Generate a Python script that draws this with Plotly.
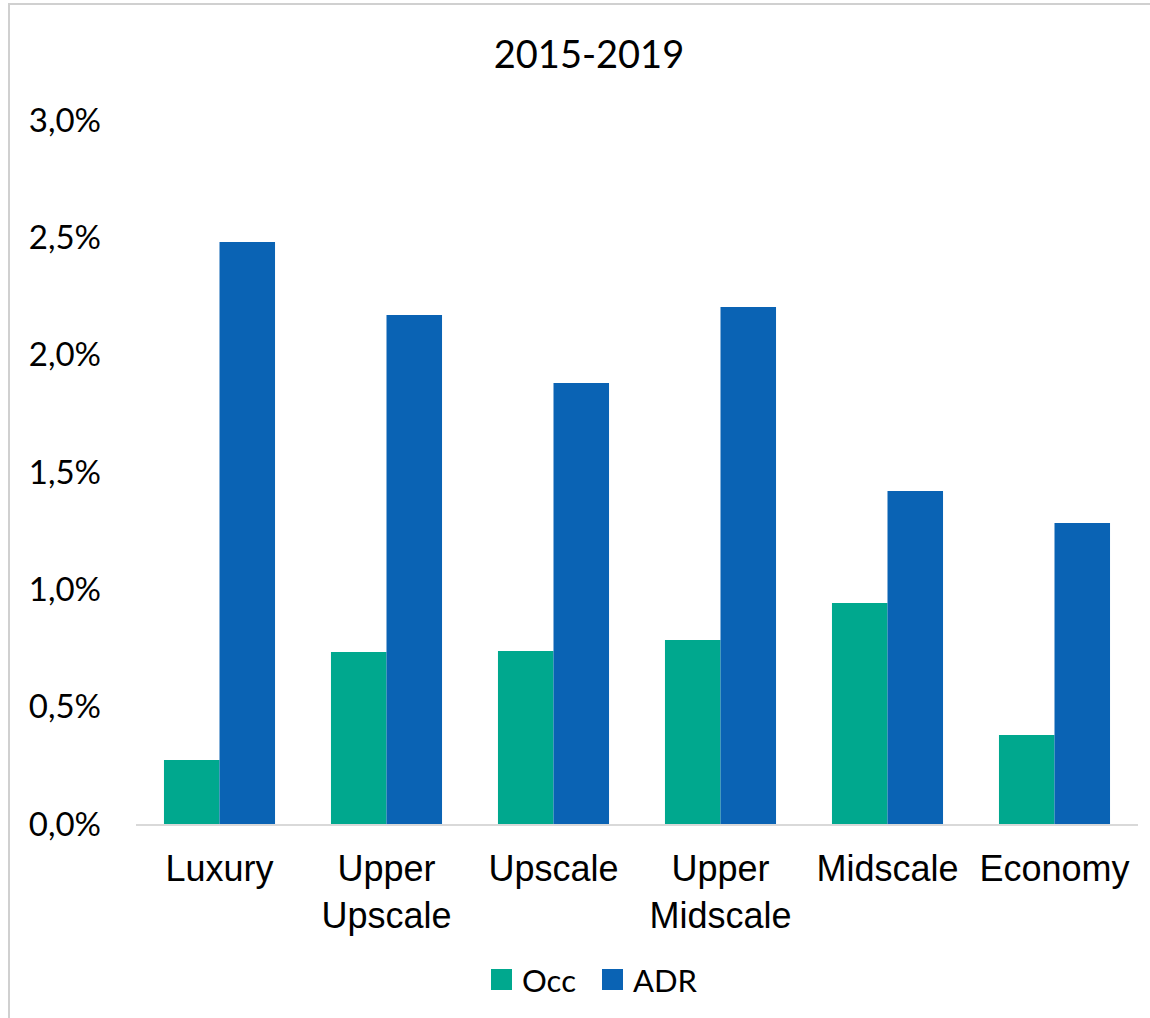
import plotly.graph_objects as go

# Average annual growth by hotel class, 2015-2019
categories = ["Luxury", "Upper<br>Upscale", "Upscale", "Upper<br>Midscale", "Midscale", "Economy"]
occ_growth = [0.00273, 0.00733, 0.00737, 0.00784, 0.00942, 0.00379]
adr_growth = [0.0248, 0.02169, 0.01879, 0.02203, 0.01419, 0.01283]
y_ticks = [0, 0.005, 0.01, 0.015, 0.02, 0.025, 0.03]

OCC_COLOR = "#00A88E"
ADR_COLOR = "#0A63B4"
LABEL_FONT = "Lato, 'Noto Sans', sans-serif"
CAT_FONT = "'Liberation Sans', Arial, sans-serif"

W, H = 1150, 1018
M_L, M_R, M_T, M_B = 136, 12, 120, 194
PW, PH = W - M_L - M_R, H - M_T - M_B


def px_x(px):
    return (px - M_L) / PW


def px_y(py):
    return (H - M_B - py) / PH


fig = go.Figure()
fig.add_trace(go.Bar(name="Occ", x=categories, y=occ_growth,
                     marker=dict(color=OCC_COLOR, line=dict(width=0)), showlegend=False))
fig.add_trace(go.Bar(name="ADR", x=categories, y=adr_growth,
                     marker=dict(color=ADR_COLOR, line=dict(width=0)), showlegend=False))

# Outer chart frame
fig.add_shape(type="rect", xref="paper", yref="paper",
              x0=px_x(9), x1=px_x(1175), y0=px_y(4), y1=px_y(1040),
              line=dict(color="#D0D0D0", width=2), fillcolor="rgba(0,0,0,0)", layer="below")

# Legend: colour swatches with labels
legend_items = [("Occ", OCC_COLOR, 491), ("ADR", ADR_COLOR, 602)]
for name, color, left in legend_items:
    fig.add_shape(type="rect", xref="paper", yref="paper",
                  x0=px_x(left), x1=px_x(left + 21), y0=px_y(969), y1=px_y(990),
                  line=dict(width=0), fillcolor=color)
    fig.add_annotation(text=name, xref="paper", yref="paper",
                       x=px_x(left + 29), y=px_y(979.5), xanchor="left", yanchor="middle",
                       showarrow=False, font=dict(family=LABEL_FONT, size=31, color="#000000"))

fig.update_layout(
    width=W, height=H,
    margin=dict(l=M_L, r=M_R, t=M_T, b=M_B),
    paper_bgcolor="white", plot_bgcolor="white",
    separators=",.",
    barmode="group", bargap=0.335, bargroupgap=0,
    title=dict(text="2015-2019", x=589 / W, xanchor="center", y=1 - 55 / H, yanchor="middle",
               font=dict(family=LABEL_FONT, size=38, color="#000000")),
    xaxis=dict(showgrid=False, showline=True, linecolor="#D9D9D9", linewidth=2,
               ticks="", tickfont=dict(family=CAT_FONT, size=36, color="#000000"),
               ticklabelstandoff=12),
    yaxis=dict(range=[0, 0.03], tickvals=y_ticks, tickformat=".1%", showgrid=False,
               zeroline=False, showline=False, ticks="",
               tickfont=dict(family=LABEL_FONT, size=33, color="#000000"),
               ticklabelstandoff=34),
)

fig.write_html("out.html")
